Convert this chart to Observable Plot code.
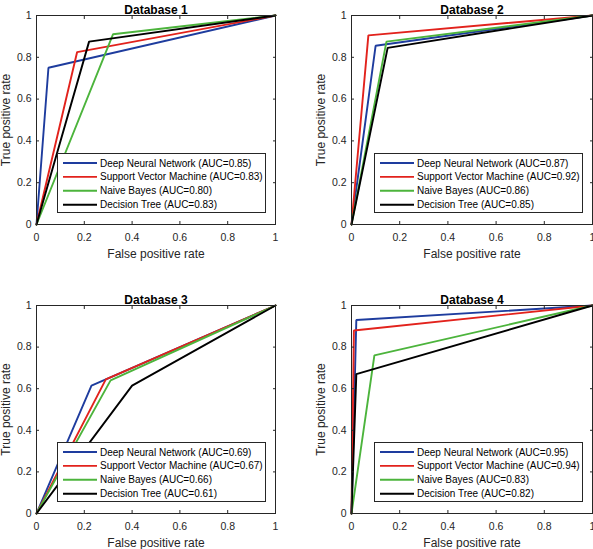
<!DOCTYPE html>
<html>
<head>
<meta charset="utf-8">
<script src="https://cdn.jsdelivr.net/npm/d3@7"></script>
<script src="https://cdn.jsdelivr.net/npm/@observablehq/plot@0.6"></script>
<style>
  html, body { margin: 0; padding: 0; background: #fff; }
  #wrap { position: relative; width: 593px; height: 549px; background: #fff; font-family: "Liberation Sans", Arial, Helvetica, sans-serif; overflow: hidden; }
  .panel { position: absolute; }
  .legend { position: absolute; background: #fff; border: 1px solid #262626; box-sizing: border-box; }
</style>
</head>
<body>
<div id="wrap"></div>
<script>
// ---- data ----
const models = ["Deep Neural Network", "Support Vector Machine", "Naive Bayes", "Decision Tree"];
const modelColors = ["#1e3c9e", "#e2221c", "#4cb43c", "#000000"];
const titles = ["Database 1", "Database 2", "Database 3", "Database 4"];

const db1Fpr = [0.05, 0.17, 0.32, 0.22];
const db1Tpr = [0.75, 0.825, 0.91, 0.875];
const db1Auc = ["0.85", "0.83", "0.80", "0.83"];

const db2Fpr = [0.10, 0.07, 0.145, 0.15];
const db2Tpr = [0.855, 0.905, 0.875, 0.845];
const db2Auc = ["0.87", "0.92", "0.86", "0.85"];

const db3Fpr = [0.23, 0.29, 0.31, 0.40];
const db3Tpr = [0.615, 0.645, 0.64, 0.615];
const db3Auc = ["0.69", "0.67", "0.66", "0.61"];

const db4Fpr = [0.02, 0.01, 0.095, 0.02];
const db4Tpr = [0.93, 0.88, 0.76, 0.67];
const db4Auc = ["0.95", "0.94", "0.83", "0.82"];

const axisTicks = [0, 0.2, 0.4, 0.6, 0.8, 1];
const axisTickLabels = ["0", "0.2", "0.4", "0.6", "0.8", "1"];
const xLabel = "False positive rate";
const yLabel = "True positive rate";

// ---- layout ----
const panels = [
  {fpr: db1Fpr, tpr: db1Tpr, auc: db1Auc, left: 0,   top: 0,   w: 296, h: 275, mL: 36, mR: 21, mT: 15, mB: 51},
  {fpr: db2Fpr, tpr: db2Tpr, auc: db2Auc, left: 296, top: 0,   w: 297, h: 275, mL: 55, mR: 1,  mT: 15, mB: 51},
  {fpr: db3Fpr, tpr: db3Tpr, auc: db3Auc, left: 0,   top: 275, w: 296, h: 274, mL: 36, mR: 21, mT: 30, mB: 36},
  {fpr: db4Fpr, tpr: db4Tpr, auc: db4Auc, left: 296, top: 275, w: 297, h: 274, mL: 55, mR: 1,  mT: 30, mB: 36}
];

const wrap = document.getElementById("wrap");
const fmt = d => axisTickLabels[axisTicks.indexOf(d)] ?? String(d);
const axisColor = "#262626";

panels.forEach((p, i) => {
  const rows = [];
  models.forEach((m, j) => {
    rows.push({model: m, fpr: 0, tpr: 0});
    rows.push({model: m, fpr: p.fpr[j], tpr: p.tpr[j]});
    rows.push({model: m, fpr: 1, tpr: 1});
  });

  const chart = Plot.plot({
    width: p.w,
    height: p.h,
    marginLeft: p.mL,
    marginRight: p.mR,
    marginTop: p.mT,
    marginBottom: p.mB,
    style: {fontFamily: '"Liberation Sans", Arial, Helvetica, sans-serif', background: "#fff", color: axisColor, overflow: "visible"},
    x: {domain: [0, 1], label: null},
    y: {domain: [0, 1], label: null},
    color: {domain: models, range: modelColors},
    marks: [
      Plot.line(rows, {x: "fpr", y: "tpr", z: "model", stroke: "model", strokeWidth: 1.9, strokeLinejoin: "miter"}),
      Plot.frame({stroke: axisColor, strokeWidth: 1}),
      // inward tick marks on all four sides
      Plot.axisX({anchor: "bottom", ticks: axisTicks, tickSize: -3, tickFormat: () => "", label: null, stroke: axisColor}),
      Plot.axisX({anchor: "top", ticks: axisTicks, tickSize: -3, tickFormat: () => "", label: null, stroke: axisColor}),
      Plot.axisY({anchor: "left", ticks: axisTicks, tickSize: -3, tickFormat: () => "", label: null, stroke: axisColor}),
      Plot.axisY({anchor: "right", ticks: axisTicks, tickSize: -3, tickFormat: () => "", label: null, stroke: axisColor}),
      // tick labels + axis labels
      Plot.axisX({anchor: "bottom", ticks: axisTicks, tickSize: 0, tickPadding: 9, tickFormat: fmt, fontSize: 10.5, fill: axisColor,
                  label: xLabel, labelAnchor: "center", labelArrow: "none", labelOffset: 33}),
      Plot.axisY({anchor: "left", ticks: axisTicks, tickSize: 0, tickPadding: 5, tickFormat: fmt, fontSize: 10.5, fill: axisColor,
                  label: yLabel, labelAnchor: "center", labelArrow: "none", labelOffset: 35}),
      Plot.text([titles[i]], {frameAnchor: "top", dy: -10, fontWeight: "bold", fontSize: 12, fill: "#000"})
    ]
  });
  const holder = document.createElement("div");
  holder.className = "panel";
  holder.style.left = p.left + "px";
  holder.style.top = p.top + "px";
  holder.appendChild(chart);
  wrap.appendChild(holder);

  // axis label font sizes
  chart.querySelectorAll("g[aria-label$='axis label']").forEach(g => {
    g.setAttribute("font-size", 12);
    g.querySelectorAll("text").forEach(t => t.setAttribute("font-size", 12));
  });

  // legend box (bottom-right inside the plot frame)
  const boxW = 209, boxH = 60;
  const frameRight = p.left + p.w - p.mR;
  const frameBottom = p.top + p.h - p.mB;
  const lg = document.createElement("div");
  lg.className = "legend";
  lg.style.left = (frameRight - 9 - boxW) + "px";
  lg.style.top = (frameBottom - 11 - boxH) + "px";
  lg.style.width = boxW + "px";
  lg.style.height = boxH + "px";
  const svg = d3.select(lg).append("svg").attr("width", boxW - 2).attr("height", boxH - 2)
    .style("position", "absolute").style("left", 0).style("top", 0);
  models.forEach((m, j) => {
    const yy = 9 + j * 13.9;
    svg.append("line").attr("x1", 5).attr("x2", 39).attr("y1", yy).attr("y2", yy)
      .attr("stroke", modelColors[j]).attr("stroke-width", 1.9);
    svg.append("text").attr("x", 42).attr("y", yy).attr("dy", "0.35em")
      .attr("font-size", 10).attr("fill", "#000")
      .attr("font-family", '"Liberation Sans", Arial, Helvetica, sans-serif')
      .text(`${m} (AUC=${p.auc[j]})`);
  });
  wrap.appendChild(lg);
});
</script>
</body>
</html>
